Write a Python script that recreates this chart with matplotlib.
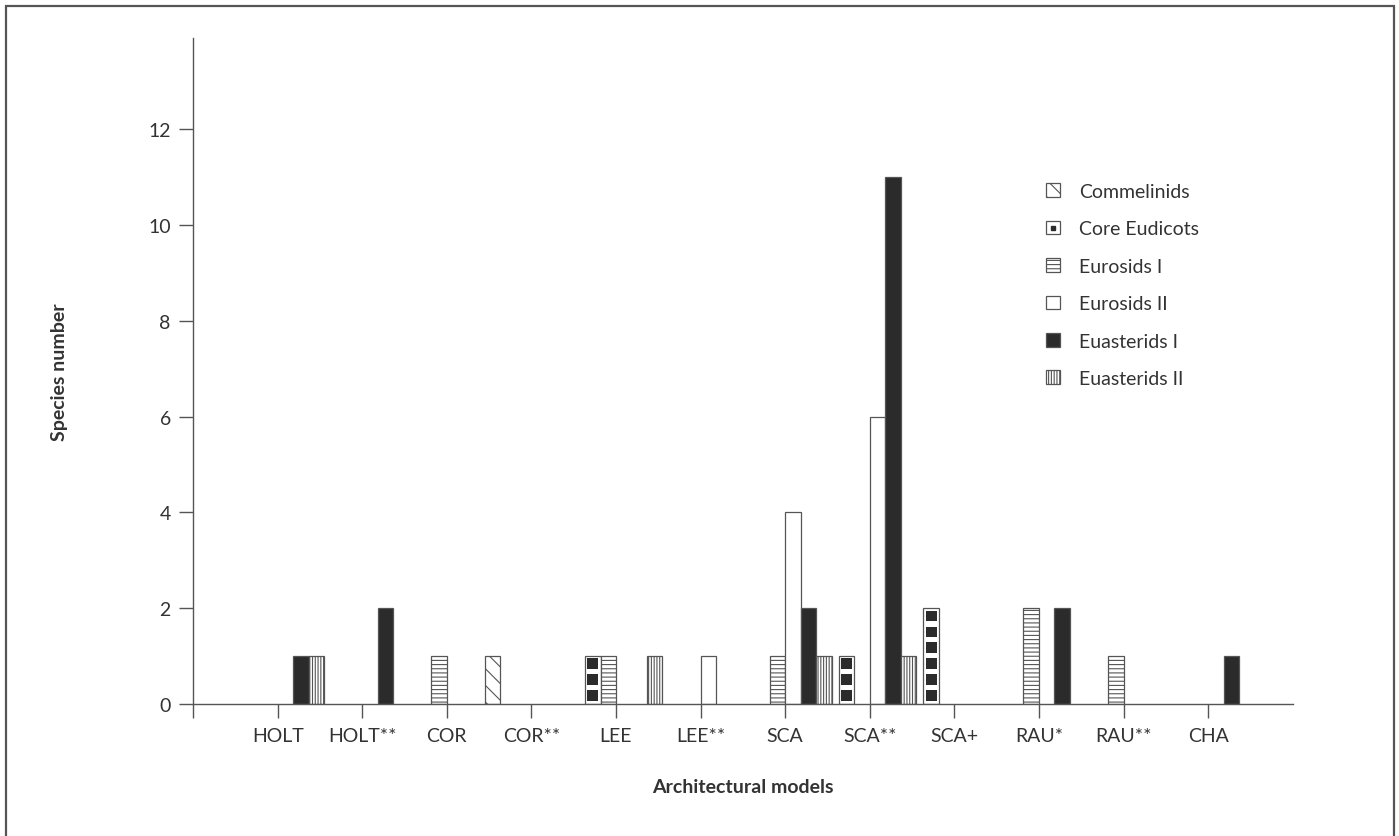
#!/usr/bin/env python3
"""Species number per architectural model, grouped by clade (hatched bars)."""

import numpy as np
import matplotlib
matplotlib.use("Agg")
import matplotlib.pyplot as plt
from matplotlib.patches import Patch, Rectangle
from matplotlib.lines import Line2D
from matplotlib.legend_handler import HandlerTuple

# ---- data ----
categories = ["HOLT", "HOLT**", "COR", "COR**", "LEE", "LEE**",
              "SCA", "SCA**", "SCA+", "RAU*", "RAU**", "CHA"]
commelinids = [0, 0, 0, 1, 0, 0, 0, 0, 0, 0, 0, 0]
core_eudicots = [0, 0, 0, 0, 1, 0, 0, 1, 2, 0, 0, 0]
eurosids_1 = [0, 0, 1, 0, 1, 0, 1, 0, 0, 2, 1, 0]
eurosids_2 = [0, 0, 0, 0, 0, 1, 4, 6, 0, 0, 0, 0]
euasterids_1 = [1, 2, 0, 0, 0, 0, 2, 11, 0, 2, 0, 1]
euasterids_2 = [1, 0, 0, 0, 1, 0, 1, 1, 0, 0, 0, 0]

series_names = ["Commelinids", "Core Eudicots", "Eurosids I",
                "Eurosids II", "Euasterids I", "Euasterids II"]
series_values = [commelinids, core_eudicots, eurosids_1,
                 eurosids_2, euasterids_1, euasterids_2]

# ---- styling ----
FONT = "Lato"
EDGE = "#555555"
DARK = "#2b2b2b"
plt.rcParams["font.family"] = [FONT, "DejaVu Sans"]
plt.rcParams["hatch.linewidth"] = 0.8
plt.rcParams["hatch.color"] = "#555555"

styles = {
    "Commelinids": dict(facecolor="white", hatch="\\\\"),
    "Core Eudicots": dict(facecolor="white", hatch=None),
    "Eurosids I": dict(facecolor="white", hatch="----"),
    "Eurosids II": dict(facecolor="white", hatch=None),
    "Euasterids I": dict(facecolor=DARK, hatch=None),
    "Euasterids II": dict(facecolor="white", hatch="||||||"),
}

fig = plt.figure(figsize=(13.99, 8.37), dpi=100)
ax = fig.add_axes([0.138, 0.158, 0.786, 0.795])

x = np.arange(1, len(categories) + 1)
w = 0.183
n_series = len(series_names)

for k, (name, vals) in enumerate(zip(series_names, series_values)):
    vals = np.asarray(vals, dtype=float)
    keep = vals > 0
    xs = x[keep] + (k - (n_series - 1) / 2) * w
    st = styles[name]
    ax.bar(xs, vals[keep], width=w, facecolor=st["facecolor"], hatch=st["hatch"],
           edgecolor=EDGE, linewidth=0.9, zorder=2)
    if name == "Core Eudicots":
        # stacked black blocks inside the bar, three per unit of height
        for xc, h in zip(xs, vals[keep]):
            n_blocks = int(round(h * 3))
            cell = h / n_blocks
            for j in range(n_blocks):
                ax.add_patch(Rectangle((xc - 0.36 * w, j * cell + 0.16 * cell),
                                       0.72 * w, 0.68 * cell,
                                       facecolor=DARK, edgecolor="none", zorder=3))

ax.set_xlim(0, len(categories) + 1)
ax.set_ylim(0, 13.9)
ax.set_xticks(np.concatenate([[0], x]))
ax.set_xticklabels([""] + categories)
ax.set_yticks(np.arange(0, 13, 2))

for side in ("top", "right"):
    ax.spines[side].set_visible(False)
for side in ("left", "bottom"):
    ax.spines[side].set_color(EDGE)
    ax.spines[side].set_linewidth(1.0)
ax.tick_params(axis="both", direction="out", length=10, width=1.0, color=EDGE,
               labelsize=14, labelcolor="#333333", pad=6)
ax.tick_params(axis="x", pad=7)

ax.set_xlabel("Architectural models", fontsize=14, fontweight="bold",
              color="#333333", labelpad=24)
ax.set_ylabel("Species number", fontsize=14, fontweight="bold",
              color="#333333", labelpad=58)

# legend
handles = []
for name in series_names:
    st = styles[name]
    sq = Patch(facecolor=st["facecolor"], hatch=st["hatch"], edgecolor=EDGE, linewidth=0.9)
    if name == "Core Eudicots":
        dot = Line2D([], [], marker="s", markersize=3.5, color=DARK, linestyle="")
        handles.append((sq, dot))
    else:
        handles.append(sq)
ax.legend(handles, series_names, handler_map={tuple: HandlerTuple(ndivide=1)},
          loc="upper left", bbox_to_anchor=(1046 / 1399, 1 - 184 / 837),
          bbox_transform=fig.transFigure, frameon=False, fontsize=14,
          handlelength=0.7, handleheight=0.7, handletextpad=1.0,
          labelspacing=1.05, borderpad=0, borderaxespad=0, labelcolor="#333333")

# outer frame (open at the bottom, as in the scan)
fig.add_artist(Rectangle((6 / 1399, -0.05), (1394 - 6) / 1399, 1.05 - 7 / 837,
                         transform=fig.transFigure, fill=False,
                         edgecolor="#555555", linewidth=1.6))

fig.savefig("out.png", dpi=100)
